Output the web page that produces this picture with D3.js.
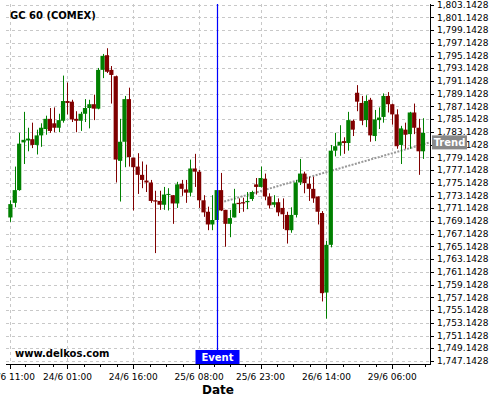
<!DOCTYPE html>
<html>
<head>
<meta charset="utf-8">
<script src="https://cdn.jsdelivr.net/npm/d3@7"></script>
<style>
  body { margin: 0; background: #fff; }
  svg { display: block; font-family: "DejaVu Sans", sans-serif; }
</style>
</head>
<body>
<svg id="chart"></svg>
<script>
//Hourly candles
const openPrices = [1769.7,1772.0,1774.0,1781.5,1781.8,1782.0,1781.1,1782.6,1783.6,1785.2,
  1784.5,1783.8,1784.9,1788.0,1787.9,1785.2,1784.9,1786.0,1786.9,1787.5,
  1786.8,1792.9,1795.2,1792.9,1791.9,1778.6,1781.6,1788.3,1779.1,1777.7,
  1776.4,1775.5,1775.2,1772.4,1772.3,1771.7,1773.3,1773.2,1771.9,1775.0,
  1774.1,1773.6,1777.4,1776.9,1772.4,1770.6,1768.6,1769.3,1774.0,1770.9,
  1768.7,1769.7,1772.0,1772.1,1772.1,1772.6,1774.9,1774.5,1775.8,1773.0,
  1771.7,1772.1,1771.2,1770.1,1767.7,1770.1,1775.2,1776.6,1775.0,1774.2,
  1773.0,1770.4,1757.9,1765.4,1780.2,1781.0,1781.7,1781.4,1784.9,1789.3,
  1787.7,1785.0,1788.2,1782.5,1785.0,1785.5,1788.8,1787.5,1785.9,1781.1,
  1783.5,1782.8,1786.2,1783.8,1780.1];
const highPrices = [1772.4,1777.7,1783.0,1786.3,1783.8,1784.6,1783.5,1784.5,1785.7,1786.9,
  1787.0,1786.0,1792.0,1790.9,1788.2,1786.4,1786.3,1788.3,1788.2,1789.0,
  1793.2,1795.4,1796.3,1793.5,1792.0,1785.2,1788.8,1790.1,1779.1,1779.8,
  1778.5,1778.0,1775.6,1773.9,1773.9,1774.5,1774.3,1773.2,1775.3,1775.6,
  1775.6,1778.8,1779.7,1777.2,1773.2,1771.4,1773.2,1774.1,1776.7,1770.9,
  1770.9,1774.2,1772.7,1772.8,1773.7,1773.9,1775.9,1777.7,1776.6,1773.5,
  1773.2,1772.7,1772.7,1770.6,1771.3,1775.6,1778.9,1776.9,1776.1,1776.1,
  1773.0,1770.7,1766.0,1781.1,1783.0,1784.2,1782.3,1786.3,1785.1,1790.5,
  1788.8,1788.9,1788.5,1786.6,1787.0,1789.2,1789.4,1787.6,1786.7,1784.1,
  1784.6,1786.3,1787.6,1785.2,1785.3];
const lowPrices = [1769.0,1771.3,1773.9,1778.1,1780.1,1780.6,1779.6,1780.8,1782.7,1783.0,
  1783.1,1783.1,1784.6,1785.9,1784.7,1783.1,1783.3,1784.7,1783.7,1785.0,
  1786.7,1791.6,1792.4,1787.6,1775.2,1772.2,1777.6,1777.7,1770.8,1773.4,
  1774.3,1773.7,1772.0,1764.1,1770.9,1770.9,1770.8,1768.7,1771.2,1773.1,
  1772.0,1773.0,1774.5,1771.2,1769.8,1767.7,1767.7,1768.6,1770.7,1765.1,
  1766.6,1769.7,1770.4,1770.6,1771.0,1772.3,1773.3,1774.4,1772.4,1771.1,
  1771.3,1769.9,1767.9,1765.6,1767.3,1769.7,1774.8,1773.5,1772.3,1772.0,
  1768.6,1756.5,1753.8,1765.0,1779.3,1779.4,1779.7,1780.2,1782.5,1786.4,
  1784.2,1783.9,1781.6,1781.7,1783.6,1784.6,1786.2,1784.3,1780.5,1778.1,
  1780.5,1780.5,1782.8,1776.4,1778.9];
const closePrices = [1771.8,1774.0,1781.3,1781.9,1782.1,1781.1,1782.6,1783.8,1785.2,1783.3,
  1783.8,1785.0,1788.0,1787.7,1785.1,1784.9,1786.0,1786.9,1787.5,1786.8,
  1792.9,1795.1,1792.6,1792.1,1778.8,1781.6,1788.3,1779.2,1777.6,1776.4,
  1775.6,1775.2,1772.3,1772.2,1771.7,1773.3,1773.4,1771.9,1774.9,1774.2,
  1773.6,1777.4,1776.9,1772.4,1770.5,1768.6,1769.3,1774.0,1770.8,1768.7,
  1769.6,1771.9,1771.8,1771.9,1772.3,1773.7,1774.5,1775.9,1773.0,1771.6,
  1772.1,1770.5,1770.2,1767.7,1770.1,1775.2,1776.6,1775.1,1774.2,1772.7,
  1770.6,1757.8,1765.4,1780.2,1780.9,1781.6,1781.4,1785.0,1783.5,1787.9,
  1784.9,1788.0,1782.6,1785.1,1785.4,1788.8,1787.5,1785.9,1780.9,1783.7,
  1782.7,1786.2,1783.8,1780.1,1783.0];

//Axis ticks
const xTickIndex = [0, 13, 28, 43, 57, 72, 87];
const xTickLabels = ["23/6 11:00", "24/6 01:00", "24/6 16:00", "25/6 08:00", "25/6 23:00", "26/6 14:00", "29/6 06:00"];
const yTicks = [1747.1428, 1749.1428, 1751.1428, 1753.1428, 1755.1428, 1757.1428, 1759.1428, 1761.1428,
  1763.1428, 1765.1428, 1767.1428, 1769.1428, 1771.1428, 1773.1428, 1775.1428, 1777.1428, 1779.1428,
  1781.1428, 1783.1428, 1785.1428, 1787.1428, 1789.1428, 1791.1428, 1793.1428, 1795.1428, 1797.1428,
  1799.1428, 1801.1428, 1803.1428];

//Markers
const eventIndex = 47;
const trendIndex = [48.7, 95.6];
const trendValue = [1772.2, 1781.5];

const w = 500;
const h = 400;
const plotLeft = 6, plotRight = 430, plotTop = 4, plotBottom = 364;

const chart = d3.select("#chart").attr("width", w).attr("height", h);

const xScale = d3.scaleLinear().domain([-1, 95.6]).range([plotLeft, plotRight]);
const yScale = d3.scaleLinear().domain([1746.67, 1803.25]).range([plotBottom, plotTop]);
const step = xScale(1) - xScale(0);

//Grid
chart.append("g")
     .selectAll("line")
     .data(yTicks)
     .enter()
     .append("line")
     .attr("x1", plotLeft)
     .attr("x2", plotRight)
     .attr("y1", (d) => Math.round(yScale(d)) + 0.5)
     .attr("y2", (d) => Math.round(yScale(d)) + 0.5)
     .attr("stroke", "#c8c8c8")
     .attr("stroke-dasharray", "3,3");

chart.append("g")
     .selectAll("line")
     .data(xTickIndex)
     .enter()
     .append("line")
     .attr("x1", (d) => Math.round(xScale(d)) + 0.5)
     .attr("x2", (d) => Math.round(xScale(d)) + 0.5)
     .attr("y1", plotTop)
     .attr("y2", plotBottom)
     .attr("stroke", "#c8c8c8")
     .attr("stroke-dasharray", "3,3");

//Trend line (under candles)
chart.append("line")
     .attr("x1", xScale(trendIndex[0]))
     .attr("y1", yScale(trendValue[0]))
     .attr("x2", xScale(trendIndex[1]))
     .attr("y2", yScale(trendValue[1]))
     .attr("stroke", "#999")
     .attr("stroke-width", 2)
     .attr("stroke-dasharray", "2,1.4");

//Candles
const candles = chart.append("g")
                     .selectAll("g")
                     .data(openPrices.map((o, i) => ({ i: i, o: o, hi: highPrices[i], lo: lowPrices[i], c: closePrices[i] })))
                     .enter()
                     .append("g");
const colorOf = (d) => d.c >= d.o ? "#008000" : "#800000";

candles.append("line")
       .attr("x1", (d) => Math.round(xScale(d.i)) + 0.5)
       .attr("x2", (d) => Math.round(xScale(d.i)) + 0.5)
       .attr("y1", (d) => yScale(d.hi))
       .attr("y2", (d) => yScale(d.lo))
       .attr("stroke", colorOf)
       .attr("stroke-width", 1);

candles.append("rect")
       .attr("x", (d) => xScale(d.i) - step * 0.48)
       .attr("width", step * 0.96)
       .attr("y", (d) => yScale(Math.max(d.o, d.c)))
       .attr("height", (d) => Math.max(1, Math.abs(yScale(d.o) - yScale(d.c))))
       .attr("fill", colorOf);

//Event line
const eventX = Math.round(xScale(eventIndex)) + 0.5;
chart.append("rect")
     .attr("x", eventX - 0.6)
     .attr("y", plotTop)
     .attr("width", 1.2)
     .attr("height", plotBottom - plotTop)
     .attr("fill", "rgb(0,0,255)");

//Axes
const xAxisG = chart.append("g").attr("transform", `translate(0, ${plotBottom})`);
xAxisG.append("line")
      .attr("x1", plotLeft).attr("x2", plotRight)
      .attr("y1", 0.5).attr("y2", 0.5)
      .attr("stroke", "#000");

//minor ticks: four per labelled interval
const minorX = [];
for (let k = 0; k < xTickIndex.length; k++) {
  const a = xTickIndex[k];
  const span = k < xTickIndex.length - 1 ? xTickIndex[k + 1] - a : xTickIndex[k] - xTickIndex[k - 1];
  for (let j = 1; j < 4; j++) {
    const v = a + span * j / 4;
    if (xScale(v) < plotRight) minorX.push(v);
  }
}
xAxisG.selectAll(".minor")
      .data(minorX)
      .enter()
      .append("line")
      .attr("x1", (d) => Math.round(xScale(d)) + 0.5)
      .attr("x2", (d) => Math.round(xScale(d)) + 0.5)
      .attr("y1", 0).attr("y2", 3)
      .attr("stroke", "#000");

xAxisG.selectAll(".major")
      .data(xTickIndex)
      .enter()
      .append("line")
      .attr("x1", (d) => Math.round(xScale(d)) + 0.5)
      .attr("x2", (d) => Math.round(xScale(d)) + 0.5)
      .attr("y1", 0).attr("y2", 5)
      .attr("stroke", "#000");

xAxisG.selectAll("text")
      .data(xTickIndex)
      .enter()
      .append("text")
      .attr("x", (d) => xScale(d))
      .attr("y", 16)
      .attr("text-anchor", "middle")
      .attr("font-size", 9)
      .text((d, i) => xTickLabels[i]);

const yAxisG = chart.append("g").attr("transform", `translate(${plotRight}, 0)`);
yAxisG.append("line")
      .attr("x1", 0.5).attr("x2", 0.5)
      .attr("y1", plotTop).attr("y2", plotBottom + 1)
      .attr("stroke", "#000");

yAxisG.selectAll(".tick")
      .data(yTicks)
      .enter()
      .append("line")
      .attr("x1", 0).attr("x2", 4)
      .attr("y1", (d) => Math.round(yScale(d)) + 0.5)
      .attr("y2", (d) => Math.round(yScale(d)) + 0.5)
      .attr("stroke", "#000");

const fmt = d3.format(",.4f");
yAxisG.selectAll("text")
      .data(yTicks)
      .enter()
      .append("text")
      .attr("x", 7)
      .attr("y", (d) => yScale(d))
      .attr("dy", "0.35em")
      .attr("font-size", 9)
      .text((d) => fmt(d));

//Trend label on the axis
const trendY = yScale(trendValue[1]);
chart.append("rect")
     .attr("x", plotRight + 2)
     .attr("y", trendY - 7)
     .attr("width", 35)
     .attr("height", 14)
     .attr("fill", "#888");
chart.append("text")
     .attr("x", plotRight + 19.5)
     .attr("y", trendY)
     .attr("dy", "0.36em")
     .attr("text-anchor", "middle")
     .attr("font-size", 10)
     .attr("font-weight", "bold")
     .attr("fill", "#fff")
     .text("Trend");

//Event label
chart.append("rect")
     .attr("x", eventX - 22)
     .attr("y", plotBottom - 14)
     .attr("width", 44)
     .attr("height", 14)
     .attr("fill", "#0000ff");
chart.append("text")
     .attr("x", eventX)
     .attr("y", plotBottom - 3)
     .attr("text-anchor", "middle")
     .attr("font-size", 10)
     .attr("font-weight", "bold")
     .attr("fill", "#fff")
     .text("Event");

//Labels
chart.append("text")
     .attr("x", 10)
     .attr("y", 19)
     .attr("font-size", 10)
     .attr("font-weight", "bold")
     .text("GC 60 (COMEX)");

chart.append("text")
     .attr("x", 15)
     .attr("y", 357)
     .attr("font-size", 10)
     .attr("font-weight", "bold")
     .text("www.delkos.com");

chart.append("text")
     .attr("x", (plotLeft + plotRight) / 2)
     .attr("y", 394)
     .attr("text-anchor", "middle")
     .attr("font-size", 12)
     .attr("font-weight", "bold")
     .text("Date");
</script>
</body>
</html>
